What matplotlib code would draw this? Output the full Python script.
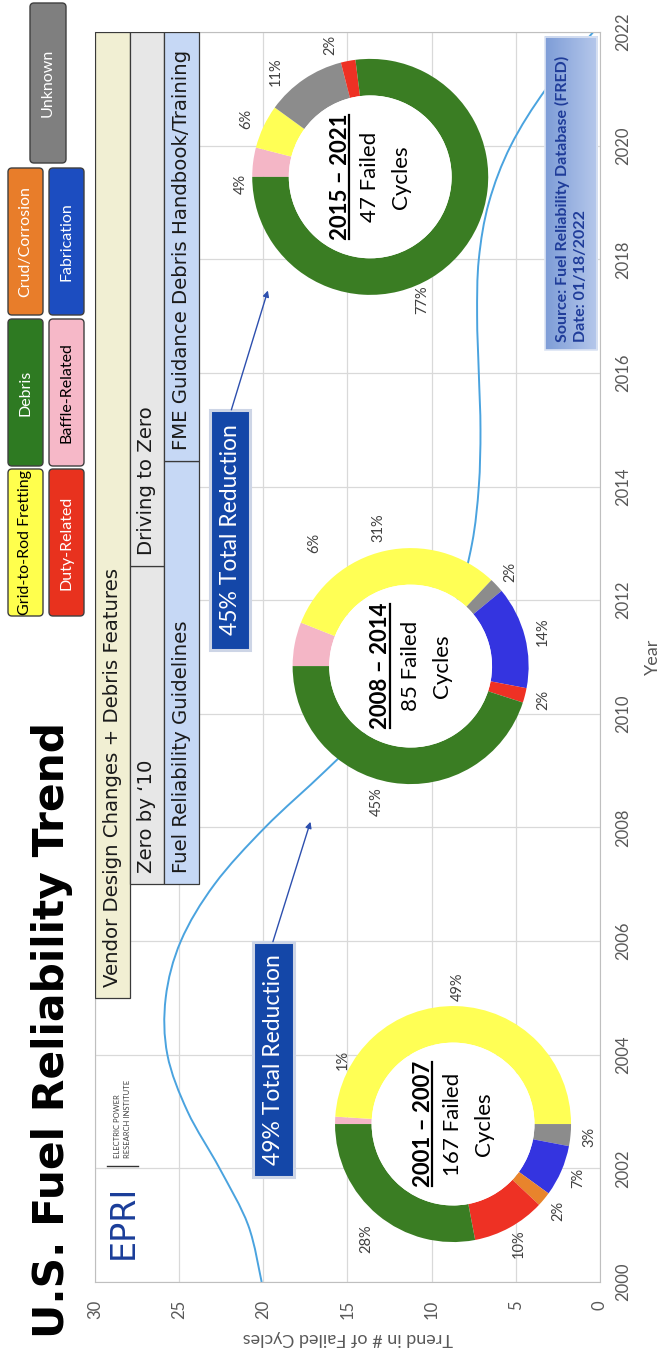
import numpy as np
import matplotlib
matplotlib.use("Agg")
import matplotlib.pyplot as plt
from matplotlib.patches import Rectangle, FancyBboxPatch, Circle, PathPatch
from matplotlib.path import Path
from matplotlib.colors import LinearSegmentedColormap

plt.rcParams['font.family'] = ['Lato', 'DejaVu Sans']

# ---------------- data ----------------
years = list(range(2000, 2023))
trend_failed_cycles = [20.1, 20.9, 22.6, 24.5, 25.7, 25.8, 24.9, 22.9, 19.9, 16.3,
                       12.9, 10.2, 8.5, 7.6, 7.2, 7.1, 7.2, 7.3, 7.2, 6.6, 5.3, 3.2, 0.4]

categories = ['Baffle-Related', 'Grid-to-Rod Fretting', 'Unknown', 'Fabrication',
              'Crud/Corrosion', 'Duty-Related', 'Debris']
pct_2001_2007 = [1, 49, 3, 7, 2, 10, 28]
pct_2008_2014 = [6, 31, 2, 14, 0, 2, 45]
pct_2015_2021 = [4, 6, 11, 0, 0, 2, 77]
period_labels = ['2001 \u2013 2007', '2008 \u2013 2014', '2015 \u2013 2021']
failed_cycles = [167, 85, 47]

reduction_labels = ['49% Total Reduction', '45% Total Reduction']

initiative_row1 = [('Vendor Design Changes + Debris Features', 2005.0, 2022.0)]
initiative_row2 = [('Zero by \u201810', 2007.0, 2012.6), ('Driving to Zero', 2012.6, 2022.0)]
initiative_row3 = [('Fuel Reliability Guidelines', 2007.0, 2014.45),
                   ('FME Guidance Debris Handbook/Training', 2014.45, 2022.0)]

source_lines = ['Source: Fuel Reliability Database (FRED)', 'Date: 01/18/2022']

# ---------------- styles ----------------
donut_colors = {'Baffle-Related': '#F4B6C6', 'Grid-to-Rod Fretting': '#FFFF55',
                'Unknown': '#8C8C8C', 'Fabrication': '#3434E0', 'Crud/Corrosion': '#E8842C',
                'Duty-Related': '#EE3124', 'Debris': '#3A7D23'}
legend_colors = {'Grid-to-Rod Fretting': ('#FFFF4D', 'black'), 'Debris': ('#2E7A22', 'white'),
                 'Crud/Corrosion': ('#E87D2A', 'white'), 'Unknown': ('#7F7F7F', 'white'),
                 'Duty-Related': ('#E8321E', 'white'), 'Baffle-Related': ('#F6B8C8', 'black'),
                 'Fabrication': ('#1C4DC0', 'white')}

W, H = 666, 1355
fig = plt.figure(figsize=(W / 100, H / 100), dpi=100)

# main axes (chart rotated: years run upward, cycles run right-to-left)
ax_l, ax_r, ax_t, ax_b = 95, 600, 32, 1282
ax = fig.add_axes([ax_l / W, 1 - ax_b / H, (ax_r - ax_l) / W, (ax_b - ax_t) / H])
ax.set_xlim(30, 0)
ax.set_ylim(2000, 2022)
ax.set_xticks(range(0, 31, 5))
ax.set_yticks(range(2000, 2023, 2))
ax.yaxis.tick_right()
ax.yaxis.set_label_position('right')
ax.tick_params(length=0, colors='#595959', labelsize=12)
ax.tick_params(axis='x', pad=13, labelrotation=90)
ax.tick_params(axis='y', pad=11, labelrotation=90)
for lab in ax.get_yticklabels():
    lab.set_va('center')
ax.grid(True, color='#D9D9D9', lw=0.9)
ax.set_axisbelow(True)
for s in ax.spines.values():
    s.set_color('#BFBFBF')
ax.set_xlabel('Trend in # of Failed Cycles', rotation=180, color='#595959', fontsize=13, labelpad=8)
ax.set_ylabel('Year', rotation=90, color='#595959', fontsize=13, labelpad=10)

# trend curve (smooth Bezier through yearly points)
P = np.column_stack([trend_failed_cycles, years]).astype(float)
n = len(P)
verts = [P[0]]
codes = [Path.MOVETO]
for i in range(n - 1):
    p0 = P[i - 1] if i > 0 else P[i]
    p1, p2 = P[i], P[i + 1]
    p3 = P[i + 2] if i + 2 < n else P[i + 1]
    verts += [p1 + (p2 - p0) / 6, p2 - (p3 - p1) / 6, p2]
    codes += [Path.CURVE4] * 3
ax.add_patch(PathPatch(Path(verts, codes), fill=False, ec='#4AA3DF', lw=1.4, zorder=2))

# initiative banners
col_bounds = [(30.0, 27.95), (27.95, 25.9), (25.9, 23.85)]
row_fc = ['#F1EFD3', '#E7E7E7', '#C6D8F5']
for (x0, x1), rows, fc in zip(col_bounds, [initiative_row1, initiative_row2, initiative_row3], row_fc):
    for label, y0, y1 in rows:
        ax.add_patch(Rectangle((x0, y0), x1 - x0, y1 - y0, fc=fc, ec='#3A3A3A', lw=0.9, zorder=3))
        ax.text((x0 + x1) / 2, y0 + 0.2, label, rotation=90, rotation_mode='anchor',
                ha='left', va='center', fontsize=14.2, family='DejaVu Sans', color='#1A1A1A', zorder=4)

# reduction call-outs
red_boxes = [((20.6, 18.2), (2001.85, 2005.99)), ((23.15, 20.8), (2011.13, 2015.35))]
red_arrows = [((19.43, 2005.99), (17.2, 2008.1)), ((21.9, 2015.35), (19.73, 2017.45))]
for label, ((x0, x1), (y0, y1)), (start, end) in zip(reduction_labels, red_boxes, red_arrows):
    ax.add_patch(Rectangle((x0, y0), x1 - x0, y1 - y0, fc='#1447A8', ec='#CDD5E6', lw=2.2, zorder=5))
    ax.text((x0 + x1) / 2, (y0 + y1) / 2, label, rotation=90, ha='center', va='center',
            color='white', fontsize=16.5, zorder=6)
    ax.annotate('', xy=end, xytext=start,
                arrowprops=dict(arrowstyle='-|>', color='#2D4FAE', lw=1.0, mutation_scale=9,
                                shrinkA=0, shrinkB=0), zorder=6)

# source box with gradient
sx0, sx1, sy0, sy1 = 3.27, 0.18, 2016.4, 2021.92
grad = np.linspace(0, 1, 64).reshape(1, -1)
cmap = LinearSegmentedColormap.from_list('src', ['#7E9DD7', '#B6C8EB'])
ax.imshow(grad, extent=[sx0, sx1, sy0, sy1], cmap=cmap, aspect='auto', zorder=5)
ax.add_patch(Rectangle((sx0, sy0), sx1 - sx0, sy1 - sy0, fill=False, ec='#DCE4F3', lw=1.2, zorder=6))
for xline, txt in zip([2.25, 1.1], source_lines):
    ax.text(xline, sy0 + 0.15, txt, rotation=90, rotation_mode='anchor', ha='left', va='center',
            fontsize=11.5, fontweight='bold', color='#1F3C99', zorder=7)
ax.set_xlim(30, 0)
ax.set_ylim(2000, 2022)

# ---------------- donuts ----------------
donut_centers = [(8.73, 2002.78), (11.25, 2010.84), (13.65, 2019.45)]
R_px = 118
label_override = [
    {'Baffle-Related': (150, 1.08), 'Debris': (233, 1.22)},
    {'Baffle-Related': (128, 1.32), 'Grid-to-Rod Fretting': (103, 1.2), 'Debris': (256, 1.18)},
    {'Baffle-Related': (183, 1.1), 'Unknown': (132, 1.2), 'Duty-Related': (107, 1.17), 'Debris': (293, 1.13)},
]
renderer = fig.canvas.get_renderer()
overlay_lines = []
for k, (vals, (cx, cy)) in enumerate(zip([pct_2001_2007, pct_2008_2014, pct_2015_2021], donut_centers)):
    px, py = ax.transData.transform((cx, cy))
    dax = fig.add_axes([(px - R_px) / W, (py - R_px) / H, 2 * R_px / W, 2 * R_px / H], zorder=3)
    dax.set_xlim(-1, 1)
    dax.set_ylim(-1, 1)
    dax.axis('off')
    dax.patch.set_visible(False)
    cats = [c for c, v in zip(categories, vals) if v > 0]
    vv = [v for v in vals if v > 0]
    dax.pie(vv, colors=[donut_colors[c] for c in cats], startangle=180, counterclock=False,
            radius=1.0, wedgeprops=dict(width=0.31, edgecolor='none'))
    dax.add_patch(Circle((0, 0), 0.69, fc='white', ec='none', zorder=3))
    dax.set_xlim(-1, 1)
    dax.set_ylim(-1, 1)
    dax.set_aspect('equal')
    cum = 0
    for c, v in zip(cats, vv):
        mid = 180 - 3.6 * (cum + v / 2)
        cum += v
        ang, dist = label_override[k].get(c, (mid, 1.16))
        t = np.deg2rad(ang)
        dax.text(dist * np.cos(t), dist * np.sin(t), f'{v}%', rotation=90, ha='center', va='center',
                 fontsize=10.5, color='#404040')
    off = 30 / R_px
    t1 = dax.text(-off, 0, period_labels[k], rotation=90, ha='center', va='center',
                  fontsize=16, fontweight='bold', color='black', zorder=5)
    dax.text(0, 0, f'{failed_cycles[k]} Failed', rotation=90, ha='center', va='center',
             fontsize=16, color='black', zorder=5)
    dax.text(off * 1.03, 0, 'Cycles', rotation=90, ha='center', va='center',
             fontsize=16, color='black', zorder=5)
    bb = t1.get_window_extent(renderer=renderer)
    overlay_lines.append((bb.x1 - 1.5, bb.y0 + 1, bb.y1 - 1))

# ---------------- overlay (pixel coordinates) ----------------
ov = fig.add_axes([0, 0, 1, 1], zorder=10)
ov.set_xlim(0, W)
ov.set_ylim(H, 0)
ov.axis('off')
ov.patch.set_visible(False)

for xd, yd0, yd1 in overlay_lines:
    ov.plot([xd, xd], [H - yd0, H - yd1], color='black', lw=1.6)

ov.text(64, 1338, 'U.S. Fuel Reliability Trend', rotation=90, rotation_mode='anchor',
        ha='left', va='baseline', fontsize=30.5, fontweight='bold', family='DejaVu Sans', color='black')

legend_layout = [('Grid-to-Rod Fretting', 8, 469), ('Debris', 8, 319), ('Crud/Corrosion', 8, 168),
                 ('Duty-Related', 49, 469), ('Baffle-Related', 49, 319), ('Fabrication', 49, 168)]
for name, x0, y0 in legend_layout:
    fc, tc = legend_colors[name]
    ov.add_patch(FancyBboxPatch((x0, y0), 35, 147, boxstyle='round,pad=0,rounding_size=4',
                                fc=fc, ec='#3F3F3F', lw=1))
    ov.text(x0 + 17.5, y0 + 73.5, name, rotation=90, ha='center', va='center', fontsize=11.5, color=tc)
fc, tc = legend_colors['Unknown']
ov.add_patch(FancyBboxPatch((30, 3), 36, 160, boxstyle='round,pad=0,rounding_size=4',
                            fc=fc, ec='#3F3F3F', lw=1))
ov.text(48, 83, 'Unknown', rotation=90, ha='center', va='center', fontsize=11.5, color=tc)

# EPRI logo
ov.text(123, 1222, 'EPRI', rotation=90, ha='center', va='center', fontsize=24,
        family='DejaVu Sans', color='#1A3D99')
ov.plot([107, 138], [1166, 1166], color='#333333', lw=1.0)
ov.text(118, 1158, 'ELECTRIC POWER', rotation=90, rotation_mode='anchor', ha='left', va='center',
        fontsize=5.5, color='#404040')
ov.text(128, 1158, 'RESEARCH INSTITUTE', rotation=90, rotation_mode='anchor', ha='left', va='center',
        fontsize=5.5, color='#404040')

fig.savefig('out.png', dpi=100)
